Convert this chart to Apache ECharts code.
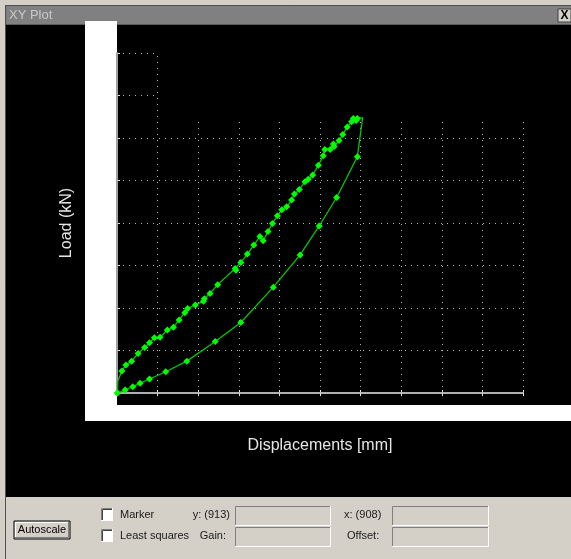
<!DOCTYPE html>
<html><head><meta charset="utf-8">
<script src="https://cdn.jsdelivr.net/npm/echarts@6/dist/echarts.min.js"></script>
<style>html,body{margin:0;padding:0;background:#000;}#c{width:571px;height:559px;}</style>
</head><body><div id="c"></div>
<script>
// ---- data ----
const xMin = 0, xMax = 10, xStep = 1;
const yMin = 0, yMax = 8, yStep = 1;
const xAxisTitle = 'Displacements [mm]';
const yAxisTitle = 'Load (kN)';
const loadingCurve = [
  [0.01,0.00],[0.02,0.28],[0.12,0.52],[0.22,0.66],[0.36,0.75],[0.52,0.93],[0.68,1.07],[0.80,1.18],
  [0.92,1.30],[1.06,1.31],[1.24,1.48],[1.39,1.55],[1.53,1.72],[1.67,1.89],[1.74,1.99],[1.93,2.07],
  [2.13,2.16],[2.15,2.22],[2.29,2.34],[2.48,2.55],[2.91,2.93],[2.93,2.89],[3.05,3.07],[3.21,3.27],
  [3.37,3.48],[3.52,3.68],[3.60,3.58],[3.72,3.80],[3.83,3.99],[3.95,4.17],[4.06,4.31],[4.18,4.38],
  [4.30,4.54],[4.37,4.68],[4.49,4.79],[4.63,4.97],[4.71,5.03],[4.82,5.13],[4.96,5.36],[5.08,5.58],
  [5.12,5.73],[5.25,5.73],[5.33,5.86],[5.35,5.80],[5.47,5.94],[5.56,6.08],[5.67,6.26],[5.78,6.38],
  [5.82,6.46],[5.89,6.41],[5.92,6.46]
];
const unloadingCurve = [
  [6.05,6.48],[5.92,5.56],[5.41,4.60],[4.98,3.93],[4.51,3.25],[3.85,2.49],[3.05,1.66],[2.42,1.21],
  [1.72,0.75],[1.20,0.50],[0.80,0.33],[0.57,0.23],[0.39,0.15],[0.20,0.07],[0.01,0.00]
];
const loadingUnmarked = [1];
const unloadingUnmarked = [0];
// grid in the original is only partly drawn
const fullGridYLevels = [1,2,3,4,5,6];
const shortGridYLevels = [7,8];
const fullGridXLevels = [1];
const shortGridXLevels = [2,3,4,5,6,7,8,9,10];
const shortHLineEnd = 1;
const shortVLineTop = 6.4;

// ---- build ----
const seriesData = [];
loadingCurve.forEach((p,i)=>seriesData.push(loadingUnmarked.includes(i)?{value:p,symbol:'none'}:{value:p}));
unloadingCurve.forEach((p,i)=>seriesData.push(unloadingUnmarked.includes(i)?{value:p,symbol:'none'}:{value:p}));

const gridLines = [];
fullGridYLevels.forEach(y=>gridLines.push({coords:[[xMin,y],[xMax,y]]}));
shortGridYLevels.forEach(y=>gridLines.push({coords:[[xMin,y],[shortHLineEnd,y]]}));
fullGridXLevels.forEach(x=>gridLines.push({coords:[[x,yMin],[x,yMax]]}));
shortGridXLevels.forEach(x=>gridLines.push({coords:[[x,yMin],[x,shortVLineTop]]}));

const FONT = '"Liberation Sans", Arial, sans-serif';
const PANEL = '#d4d0c8';

function sunken(x,y,w,h,fill){
  return [
    {type:'rect',shape:{x:x,y:y,width:w,height:h},style:{fill:fill}},
    {type:'polyline',shape:{points:[[x+0.5,y+h],[x+0.5,y+0.5],[x+w,y+0.5]]},style:{stroke:'#808080',lineWidth:1,fill:null}},
    {type:'polyline',shape:{points:[[x+1.5,y+h-1],[x+1.5,y+1.5],[x+w-1,y+1.5]]},style:{stroke:'#404040',lineWidth:fill==='#ffffff'?1:0,fill:null}},
    {type:'polyline',shape:{points:[[x,y+h-0.5],[x+w-0.5,y+h-0.5],[x+w-0.5,y]]},style:{stroke:'#ffffff',lineWidth:1,fill:null}}
  ];
}
function label(x,y,t,align){
  return {type:'text',x:x,y:y,style:{text:t,fill:'#1a1a1a',font:'11px '+FONT,textAlign:align||'left',textVerticalAlign:'middle'}};
}

const graphics = [
  {type:'rect',shape:{x:0,y:0,width:571,height:5},style:{fill:PANEL}},
  {type:'rect',shape:{x:0,y:0,width:5,height:559},style:{fill:PANEL}},
  {type:'rect',shape:{x:5,y:5,width:566,height:20},style:{fill:'#808080'}},
  {type:'polyline',shape:{points:[[5.5,559],[5.5,5.5],[571,5.5]]},style:{stroke:'#505050',lineWidth:1,fill:null}},
  {type:'polyline',shape:{points:[[6,24.5],[571,24.5]]},style:{stroke:'#5a5a5a',lineWidth:1,fill:null}},
  {type:'text',x:9,y:15.5,style:{text:'XY Plot',fill:'#c8c8c8',font:'13px '+FONT,textVerticalAlign:'middle'}},
  {type:'rect',shape:{x:558,y:9,width:13,height:13},style:{fill:PANEL,stroke:'#404040',lineWidth:1}},
  {type:'text',x:564.5,y:15.5,style:{text:'X',fill:'#000',font:'bold 12px '+FONT,textAlign:'center',textVerticalAlign:'middle'}},
  {type:'rect',shape:{x:6,y:497,width:565,height:62},style:{fill:PANEL}},
  {type:'rect',shape:{x:85,y:21,width:32,height:400},style:{fill:'#ffffff'}},
  {type:'rect',shape:{x:85,y:405,width:486,height:16},style:{fill:'#ffffff'}},
  // Autoscale button
  {type:'rect',shape:{x:14,y:521,width:56,height:18},style:{fill:PANEL,stroke:'#000',lineWidth:1}},
  {type:'polyline',shape:{points:[[15.5,538],[15.5,522.5],[69,522.5]]},style:{stroke:'#ffffff',lineWidth:1,fill:null}},
  {type:'polyline',shape:{points:[[15,537.5],[68.5,537.5],[68.5,522]]},style:{stroke:'#808080',lineWidth:1,fill:null}},
  {type:'text',x:42,y:530,style:{text:'Autoscale',fill:'#000',font:'11px '+FONT,textAlign:'center',textVerticalAlign:'middle'}}
];
graphics.push(...sunken(101,508,12,13,'#ffffff'));
graphics.push(...sunken(101,529,12,13,'#ffffff'));
graphics.push(label(120,514.5,'Marker'));
graphics.push(label(120,535.5,'Least squares'));
graphics.push(label(230,514.5,'y: (913)','right'));
graphics.push(label(226,535.5,'Gain:','right'));
graphics.push(...sunken(235,506,96,20,PANEL));
graphics.push(...sunken(235,527,96,20,PANEL));
graphics.push(label(344,515,'x: (908)'));
graphics.push(label(347,536,'Offset:'));
graphics.push(...sunken(392,506,97,20,PANEL));
graphics.push(...sunken(392,527,97,20,PANEL));

const chart = echarts.init(document.getElementById('c'), null, {renderer:'canvas'});
chart.setOption({
  backgroundColor:'#000000',
  animation:false,
  grid:{left:117,top:53,width:406,height:340},
  xAxis:[{
    type:'value',min:xMin,max:xMax,interval:xStep,
    name:xAxisTitle,nameLocation:'middle',nameGap:45,
    nameTextStyle:{color:'#e6e6e6',fontSize:16,fontFamily:FONT},
    axisLine:{onZero:false,lineStyle:{color:'#b0b0b0',width:2}},
    axisTick:{show:true,length:3,lineStyle:{color:'#e0e0e0',width:1}},
    axisLabel:{show:false},splitLine:{show:false}
  },{
    type:'value',min:xMin,max:xMax,interval:xStep,position:'bottom',offset:0,
    axisLine:{show:false},
    axisTick:{show:true,inside:true,length:3,lineStyle:{color:'#e0e0e0',width:1}},
    axisLabel:{show:false},splitLine:{show:false}
  }],
  yAxis:{
    type:'value',min:yMin,max:yMax,interval:yStep,
    name:yAxisTitle,nameLocation:'middle',nameGap:42,nameRotate:90,
    nameTextStyle:{color:'#e6e6e6',fontSize:16,fontFamily:FONT},
    axisLine:{onZero:false,lineStyle:{color:'#a0a0a0',width:2}},
    axisTick:{show:true,inside:true,length:3,lineStyle:{color:'#e0e0e0',width:1}},
    axisLabel:{show:false},splitLine:{show:false}
  },
  graphic:graphics,
  series:[{
    type:'lines',coordinateSystem:'cartesian2d',xAxisIndex:0,yAxisIndex:0,
    silent:true,z:1,
    lineStyle:{color:'#b4b4b4',width:1,type:[1,5],opacity:1},
    data:gridLines
  },{
    type:'line',xAxisIndex:0,yAxisIndex:0,z:3,
    data:seriesData,
    symbol:'diamond',symbolSize:7,showSymbol:true,
    lineStyle:{color:'#00c800',width:1.3},
    itemStyle:{color:'#00ff00'}
  }]
});
</script></body></html>
